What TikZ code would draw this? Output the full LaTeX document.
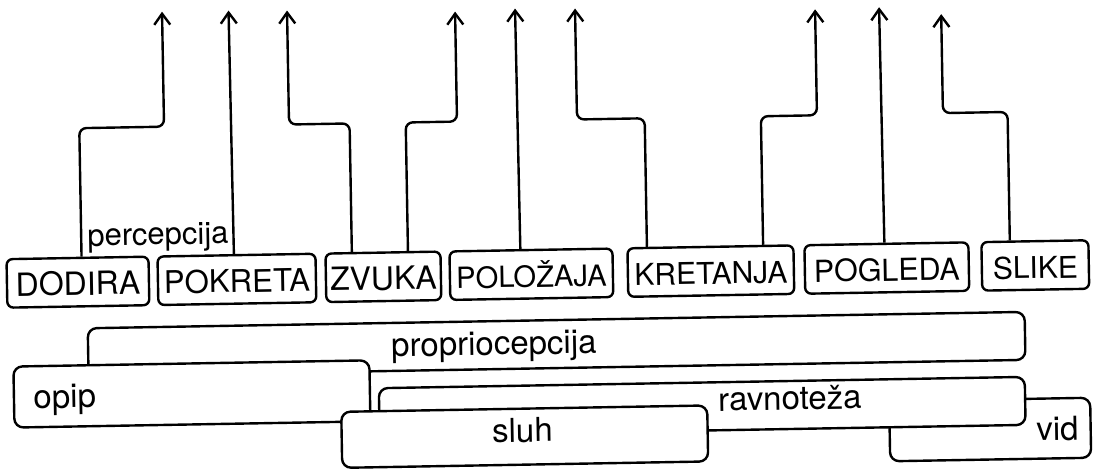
\documentclass[tikz,border=0pt]{standalone}
\usepackage{fontspec}
\setmainfont{TeX Gyre Heros}
\usetikzlibrary{calc, arrows.meta}

\newcommand{\natpisfont}{\fontsize{16.5}{19}\selectfont}

\begin{document}
\begin{tikzpicture}[x=0.5pt, y=-0.5pt,
    rijec/.style={draw, rounded corners=3pt, line width=1.2pt, inner sep=0pt,
        minimum height=24.25pt, text height=13pt, text depth=0pt,
        anchor=north west, font=\fontsize{#1}{18}\selectfont},
    rijec/.default=15.2,
    traka/.style={draw, fill=white, rounded corners=4.5pt, line width=1.2pt,
        inner sep=0pt, anchor=north west},
    natpis/.style={anchor=base, inner sep=0pt, font=\natpisfont},
    veza/.style={line width=1.2pt, rounded corners=3.5pt,
        -{Straight Barb[length=5.5pt, width=8pt, line width=1.2pt]}}]

    \path[use as bounding box, fill=white] (0,0) rectangle (1096,472);

    \begin{scope}[rotate around={1:(548,236)}, transform shape]
    % --- 1. 上排方框 ---
    \node[rijec=16, minimum width=71pt] (dodira) at (5,248.5) {DODIRA};
    \node[rijec=15.6, minimum width=79pt] (pokreta) at (156,248.5) {POKRETA};
    \node[rijec=16, minimum width=57.5pt] (zvuka) at (324,248.5) {ZVUKA};
    \node[rijec=14.6, minimum width=81.5pt] (polozaja) at (448,248.5) {POLOŽAJA};
    \node[rijec=15, minimum width=83pt] (kretanja) at (626,248.5) {KRETANJA};
    \node[rijec=15.2, minimum width=82pt] (pogleda) at (803,248.5) {POGLEDA};
    \node[rijec=15, minimum width=53.5pt] (slike) at (980,248.5) {SLIKE};

    \node[natpis, font=\fontsize{15.5}{18}\selectfont] (perc) at (158,238) {percepcija};

    % --- 2. 箭頭終點與轉角 ---
    \def\lakat{120}
    \coordinate (V1) at (166,5);
    \coordinate (V2) at (232.5,5);
    \coordinate (V3) at (291,6);
    \coordinate (V4) at (459,10);
    \coordinate (V5) at (519,8);
    \coordinate (V6) at (579,9);
    \coordinate (V7) at (819,14);
    \coordinate (V8) at (883,13);
    \coordinate (V9) at (945,21);
    \coordinate (K1) at (166,\lakat);
    \coordinate (K3) at (291,\lakat);
    \coordinate (K4) at (459,\lakat);
    \coordinate (K6) at (579,\lakat);
    \coordinate (K7) at (819,\lakat);
    \coordinate (K9) at (945,\lakat);

    % --- 3. 箭頭 ---
    \draw[veza] ($(dodira.north west)!.528!(dodira.north east)$) |- (K1) -- (V1);
    \draw[veza] ($(pokreta.north west)!.484!(pokreta.north east)$) -- (V2);
    \draw[veza] ($(zvuka.north west)!.235!(zvuka.north east)$) |- (K3) -- (V3);
    \draw[veza] ($(zvuka.north west)!.713!(zvuka.north east)$) |- (K4) -- (V4);
    \draw[veza] ($(polozaja.north west)!.436!(polozaja.north east)$) -- (V5);
    \draw[veza] ($(kretanja.north west)!.123!(kretanja.north east)$) |- (K6) -- (V6);
    \draw[veza] ($(kretanja.north west)!.813!(kretanja.north east)$) |- (K7) -- (V7);
    \draw[veza] ($(pogleda.north west)!.488!(pogleda.north east)$) -- (V8);
    \draw[veza] ($(slike.north west)!.271!(slike.north east)$) |- (K9) -- (V9);

    % --- 4. 下方橫條 (由後往前) ---
    \node[traka, minimum width=468.5pt, minimum height=24pt] (proprio) at (85,319) {};
    \node[natpis] (tproprio) at (492,354) {propriocepcija};
    \node[traka, minimum width=178pt, minimum height=30.5pt] (opip) at (10,356) {};
    \node[natpis] (topip) at (62,399.5) {opip};
    \node[traka, minimum width=100.5pt, minimum height=30pt] (vid) at (885,406) {};
    \node[natpis] (tvid) at (1054,449) {vid};
    \node[traka, minimum width=323pt, minimum height=24pt] (ravnoteza) at (375,384) {};
    \node[natpis] (travnoteza) at (787,414) {ravnoteža};
    \node[traka, minimum width=183pt, minimum height=28pt] (sluh) at (337,407) {};
    \node[natpis] (tsluh) at (519,441.5) {sluh};
    \end{scope}

\end{tikzpicture}
\end{document}
